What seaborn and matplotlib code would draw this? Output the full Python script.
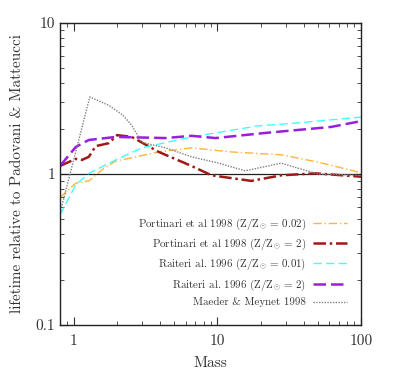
import matplotlib
matplotlib.use("Agg")
import matplotlib.pyplot as plt
import seaborn as sns
import numpy as np
from matplotlib.ticker import FixedLocator, FixedFormatter, LogLocator, NullFormatter

# ---- data ----
port002_m = [0.8, 1.03, 1.27, 1.6, 1.96, 2.53, 3.9, 6.6, 12.5, 27.8, 50, 100]
port002_v = [0.70, 0.87, 0.90, 1.08, 1.22, 1.28, 1.40, 1.49, 1.40, 1.34, 1.20, 1.02]

port2_m = [0.8, 1.03, 1.14, 1.27, 1.42, 1.75, 2.0, 2.53, 3.9, 6.6, 9.1, 17.2, 27.8, 48, 100]
port2_v = [1.13, 1.26, 1.24, 1.30, 1.53, 1.60, 1.81, 1.76, 1.40, 1.13, 0.98, 0.90, 0.98, 1.01, 0.96]

rait001_m = [0.8, 1.03, 1.27, 1.96, 2.97, 6.6, 19, 36, 100]
rait001_v = [0.535, 0.85, 1.01, 1.24, 1.49, 1.76, 2.08, 2.18, 2.38]

rait2_m = [0.8, 1.03, 1.27, 1.96, 4.35, 6.6, 9.7, 21.5, 62, 100]
rait2_v = [1.13, 1.51, 1.68, 1.76, 1.73, 1.79, 1.73, 1.87, 2.05, 2.24]

maeder_m = [0.8, 1.29, 1.75, 2.2, 2.53, 2.97, 4.35, 6.6, 10.2, 15.6, 27.8, 50, 100]
maeder_v = [0.55, 3.24, 2.85, 2.45, 2.10, 1.62, 1.49, 1.30, 1.18, 1.05, 1.18, 1.0, 0.98]

labels = [r"Portinari et al 1998 (Z/Z$_{\odot}$ = 0.02)",
          r"Portinari et al 1998 (Z/Z$_{\odot}$ = 2)",
          r"Raiteri al. 1996 (Z/Z$_{\odot}$ = 0.01)",
          r"Raiteri al. 1996 (Z/Z$_{\odot}$ = 2)",
          "Maeder & Meynet 1998"]

sns.set_style("ticks")
plt.rcParams['font.family'] = ['cmr10', 'DejaVu Serif']
plt.rcParams['mathtext.fontset'] = 'cm'
plt.rcParams['axes.unicode_minus'] = False
plt.rcParams['axes.formatter.use_mathtext'] = True

fig = plt.figure(figsize=(4.07, 3.77), dpi=100)
ax = fig.add_axes([60/407, 52/377, 301/407, 302/377])

series = [
    (port002_m, port002_v, labels[0], "#ffb340", (0, (6, 2, 1, 2)), 1.0),
    (port2_m, port2_v, labels[1], "#a01818", (0, (5, 1.5, 1, 1.5)), 1.8),
    (rait001_m, rait001_v, labels[2], "#40ffff", (0, (6, 3)), 1.0),
    (rait2_m, rait2_v, labels[3], "#9a1ee0", (0, (5, 2)), 1.8),
    (maeder_m, maeder_v, labels[4], "#808080", (0, (1, 1)), 1.0),
]

ax.axhline(1.0, color="#202020", lw=0.9, zorder=1)
for m, v, lab, c, ls, lw in series:
    sns.lineplot(x=m, y=v, ax=ax, color=c, lw=lw, label=lab, sort=False)
    ax.lines[-1].set_linestyle(ls)

ax.set_xscale("log")
ax.set_yscale("log")
ax.set_xlim(0.8, 100)
ax.set_ylim(0.1, 10)

ax.xaxis.set_major_locator(FixedLocator([1, 10, 100]))
ax.xaxis.set_major_formatter(FixedFormatter(["1", "10", "100"]))
ax.yaxis.set_major_locator(FixedLocator([0.1, 1, 10]))
ax.yaxis.set_major_formatter(FixedFormatter(["0.1", "1", "10"]))
for a in (ax.xaxis, ax.yaxis):
    a.set_minor_locator(LogLocator(base=10, subs=np.arange(2, 10)))
    a.set_minor_formatter(NullFormatter())

ax.tick_params(which="both", direction="in", top=True, right=True, labelsize=11, colors="#333333")
ax.tick_params(which="major", length=6, width=0.8)
ax.tick_params(which="minor", length=3, width=0.6)
ax.tick_params(axis="x", pad=7)
for s in ax.spines.values():
    s.set_linewidth(1.0)
    s.set_color("#222222")

ax.set_xlabel("Mass", fontsize=11, color="#333333", labelpad=6)
ax.set_ylabel("lifetime relative to Padovani & Matteucci", fontsize=11, color="#333333", labelpad=8)

leg = ax.legend(loc="lower right", bbox_to_anchor=(0.955, 0.058), frameon=False,
                markerfirst=False, fontsize=7.9, handlelength=3.1, labelspacing=0.45,
                handletextpad=0.7, borderpad=0, borderaxespad=0)
for t in leg.get_texts():
    t.set_color("#333333")

fig.savefig("out.png", dpi=100)
